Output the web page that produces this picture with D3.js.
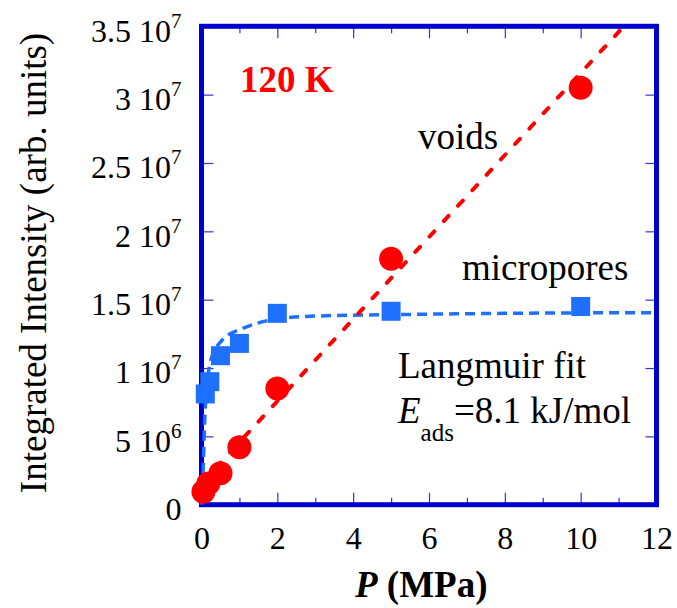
<!DOCTYPE html>
<html>
<head>
<meta charset="utf-8">
<script src="https://cdn.jsdelivr.net/npm/d3@7"></script>
<style>
body { margin: 0; background: #fff; }
text { font-family: 'Liberation Serif', 'Times New Roman', serif; fill: #000; }
</style>
</head>
<body>
<script>
// measured points, P in MPa
var microP = [0.1, 0.22, 0.5, 1, 2, 5, 10];
var microI = [8.1e6, 9.0e6, 10.9e6, 11.8e6, 14.0e6, 14.15e6, 14.5e6];
var voidP = [0.05, 0.18, 0.5, 1, 2, 5, 10];
var voidI = [0.95e6, 1.55e6, 2.3e6, 4.2e6, 8.5e6, 18.0e6, 30.5e6];

// dashed fit curves
var langmuirP = [0, 0.05, 0.08, 0.11, 0.16, 0.23, 0.35, 0.5, 0.7, 1.0, 1.5, 2, 3, 5, 8, 12];
var langmuirI = [0, 3.0e6, 5.8e6, 7.6e6, 9.2e6, 10.4e6, 11.3e6, 11.9e6, 12.4e6, 12.8e6, 13.3e6, 13.6e6, 13.8e6, 13.9e6, 14.0e6, 14.05e6];
var voidFitP = [0, 11.14];
var voidFitI = [1.57e6, 35e6];

var xTicks = [0, 2, 4, 6, 8, 10, 12];
var xMinorTicks = [1, 3, 5, 7, 9, 11];
var yTicks = [0, 5e6, 1e7, 1.5e7, 2e7, 2.5e7, 3e7, 3.5e7];
var yMantissa = ['0', '5', '1', '1.5', '2', '2.5', '3', '3.5'];
var yExponent = ['', '6', '7', '7', '7', '7', '7', '7'];

var W = 677, H = 608;
var plot = { left: 201.5, right: 656.5, top: 26.3, bottom: 504.7 };
var frameColor = '#0000cc';
var tickColor = '#3434d6';
var red = '#ff0000';
var blue = '#2070ff';

var svg = d3.select('body').append('svg')
    .attr('width', W)
    .attr('height', H);

svg.append('rect')
    .attr('width', W)
    .attr('height', H)
    .attr('fill', '#fff');

var x = d3.scaleLinear().domain([0, 12]).range([plot.left, plot.right]);
var y = d3.scaleLinear().domain([0, 3.5e7]).range([plot.bottom, plot.top]);

// inside tick marks on all four sides
function tickMarks(axis, tx, ty) {
    var g = svg.append('g')
        .attr('transform', 'translate(' + tx + ',' + ty + ')')
        .call(axis);
    g.select('.domain').remove();
    g.selectAll('line').attr('stroke', tickColor).attr('stroke-width', 1.2);
    return g;
}

tickMarks(d3.axisBottom(x).tickValues(xTicks).tickSizeInner(-12).tickSizeOuter(0).tickFormat(''), 0, plot.bottom);
tickMarks(d3.axisBottom(x).tickValues(xMinorTicks).tickSizeInner(-7).tickSizeOuter(0).tickFormat(''), 0, plot.bottom);
tickMarks(d3.axisTop(x).tickValues(xTicks).tickSizeInner(-12).tickSizeOuter(0).tickFormat(''), 0, plot.top);
tickMarks(d3.axisTop(x).tickValues(xMinorTicks).tickSizeInner(-7).tickSizeOuter(0).tickFormat(''), 0, plot.top);
tickMarks(d3.axisLeft(y).tickValues(yTicks).tickSizeInner(-12).tickSizeOuter(0).tickFormat(''), plot.left, 0);
tickMarks(d3.axisRight(y).tickValues(yTicks).tickSizeInner(-11).tickSizeOuter(0).tickFormat(''), plot.right, 0);

// tick labels
var xLab = svg.append('g')
    .attr('transform', 'translate(0,' + plot.bottom + ')')
    .call(d3.axisBottom(x).tickValues(xTicks).tickSize(0).tickPadding(22).tickFormat(d3.format('d')));
xLab.select('.domain').remove();
xLab.selectAll('text')
    .attr('font-family', "'Liberation Serif', serif")
    .attr('font-size', 32)
    .attr('fill', '#000');

var yLab = svg.append('g')
    .attr('transform', 'translate(' + plot.left + ',0)')
    .call(d3.axisLeft(y).tickValues(yTicks).tickSize(0).tickPadding(20)
        .tickFormat(function(d, i) { return yExponent[i] ? yMantissa[i] + ' 10' : yMantissa[i]; }));
yLab.select('.domain').remove();
yLab.selectAll('text')
    .attr('font-family', "'Liberation Serif', serif")
    .attr('font-size', 32)
    .attr('fill', '#000')
    .attr('dy', '0.46em')
    .each(function(d, i) {
        if (!yExponent[i]) return;
        d3.select(this).append('tspan')
            .attr('dy', -14)
            .attr('font-size', 21)
            .text(yExponent[i]);
    });

// frame
svg.append('rect')
    .attr('x', plot.left)
    .attr('y', plot.top)
    .attr('width', plot.right - plot.left)
    .attr('height', plot.bottom - plot.top)
    .attr('fill', 'none')
    .attr('stroke', frameColor)
    .attr('stroke-width', 5);

// fits
var line = d3.line()
    .x(function(d) { return x(d.p); })
    .y(function(d) { return y(d.v); });

var langmuir = langmuirP.map(function(p, i) { return { p: p, v: langmuirI[i] }; });
svg.append('path')
    .attr('d', line.curve(d3.curveMonotoneX)(langmuir))
    .attr('fill', 'none')
    .attr('stroke', blue)
    .attr('stroke-width', 3.5)
    .attr('stroke-dasharray', '10,6');

var voidFit = voidFitP.map(function(p, i) { return { p: p, v: voidFitI[i] }; });
svg.append('path')
    .attr('d', line.curve(d3.curveLinear)(voidFit))
    .attr('fill', 'none')
    .attr('stroke', red)
    .attr('stroke-width', 4)
    .attr('stroke-linecap', 'round')
    .attr('stroke-dasharray', '7,14');

// markers
var sq = 19;
svg.selectAll('.micro')
    .data(microP.map(function(p, i) { return { p: p, v: microI[i] }; }))
    .enter()
        .append('rect')
        .attr('class', 'micro')
        .attr('x', function(d) { return x(d.p) - sq / 2; })
        .attr('y', function(d) { return y(d.v) - sq / 2; })
        .attr('width', sq)
        .attr('height', sq)
        .attr('fill', blue);

svg.selectAll('.void')
    .data(voidP.map(function(p, i) { return { p: p, v: voidI[i] }; }))
    .enter()
        .append('circle')
        .attr('class', 'void')
        .attr('cx', function(d) { return x(d.p); })
        .attr('cy', function(d) { return y(d.v); })
        .attr('r', 12)
        .attr('fill', red);

// axis titles
svg.append('text')
    .attr('transform', 'translate(46,263) rotate(-90)')
    .attr('text-anchor', 'middle')
    .attr('font-size', 37)
    .text('Integrated Intensity (arb. units)');

var xTitle = svg.append('text')
    .attr('x', 355)
    .attr('y', 597)
    .attr('font-size', 37)
    .attr('font-weight', 'bold');
xTitle.append('tspan').attr('font-style', 'italic').text('P');
xTitle.append('tspan').text(' (MPa)');

// annotations
svg.append('text')
    .attr('x', 240)
    .attr('y', 92)
    .attr('font-size', 37)
    .attr('font-weight', 'bold')
    .attr('fill', red)
    .style('fill', red)
    .text('120 K');

svg.append('text').attr('x', 418).attr('y', 149).attr('font-size', 37).text('voids');
svg.append('text').attr('x', 462).attr('y', 280).attr('font-size', 37).text('micropores');
svg.append('text').attr('x', 398).attr('y', 378).attr('font-size', 37).text('Langmuir fit');

var eText = svg.append('text').attr('x', 398).attr('y', 423).attr('font-size', 37);
eText.append('tspan').attr('font-style', 'italic').text('E');
eText.append('tspan').attr('font-size', 25).attr('dy', 18).text('ads');
eText.append('tspan').attr('dy', -18).text('=8.1 kJ/mol');
</script>
</body>
</html>
